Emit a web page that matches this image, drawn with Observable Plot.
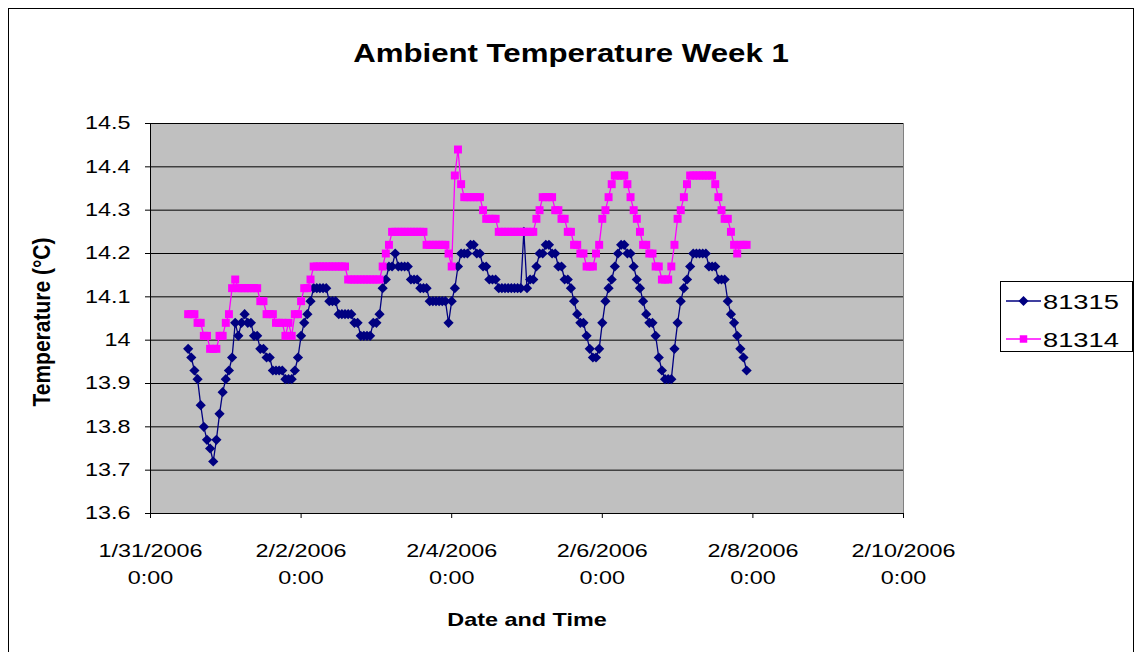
<!DOCTYPE html>
<html><head><meta charset="utf-8">
<script src="https://cdn.jsdelivr.net/npm/d3@7"></script>
<script src="https://cdn.jsdelivr.net/npm/@observablehq/plot@0.6"></script>
<style>
body{margin:0;background:#fff;}
#wrap{position:relative;width:1135px;height:652px;overflow:hidden;background:#fff;}
#chart{position:absolute;left:0;top:0;}
#over{position:absolute;left:0;top:0;}
</style></head><body>
<div id="wrap"><div id="chart"></div>
<svg id="over" width="1135" height="652" font-family="Liberation Sans, Arial, sans-serif"></svg>
</div>
<script>
// ---- data ----
const seriesNames = ["81315", "81314"];
const seriesColors = ["#000080", "#FF00FF"];
const startTime = "2006-01-31T12:00:00Z"; // first reading, hourly readings
const temp81315 = [
13.98,13.96,13.93,13.91,13.85,13.80,13.77,13.75,13.72,13.77,
13.83,13.88,13.91,13.93,13.96,14.04,14.01,14.04,14.06,14.04,
14.04,14.01,14.01,13.98,13.98,13.96,13.96,13.93,13.93,13.93,
13.93,13.91,13.91,13.91,13.93,13.96,14.01,14.04,14.06,14.09,
14.12,14.12,14.12,14.12,14.12,14.09,14.09,14.09,14.06,14.06,
14.06,14.06,14.06,14.04,14.04,14.01,14.01,14.01,14.01,14.04,
14.04,14.06,14.12,14.14,14.17,14.17,14.20,14.17,14.17,14.17,
14.17,14.14,14.14,14.14,14.12,14.12,14.12,14.09,14.09,14.09,
14.09,14.09,14.09,14.04,14.09,14.12,14.17,14.20,14.20,14.20,
14.22,14.22,14.20,14.20,14.17,14.17,14.14,14.14,14.14,14.12,
14.12,14.12,14.12,14.12,14.12,14.12,14.12,14.25,14.12,14.14,
14.14,14.17,14.20,14.20,14.22,14.22,14.20,14.20,14.17,14.17,
14.14,14.14,14.12,14.09,14.06,14.04,14.04,14.01,13.98,13.96,
13.96,13.98,14.04,14.09,14.12,14.14,14.17,14.20,14.22,14.22,
14.20,14.20,14.17,14.14,14.12,14.09,14.06,14.04,14.04,14.01,
13.96,13.93,13.91,13.91,13.91,13.98,14.04,14.09,14.12,14.14,
14.17,14.20,14.20,14.20,14.20,14.20,14.17,14.17,14.17,14.14,
14.14,14.14,14.09,14.06,14.04,14.01,13.98,13.96,13.93];
const temp81314 = [
14.06,14.06,14.06,14.04,14.04,14.01,14.01,13.98,13.98,13.98,
14.01,14.01,14.04,14.06,14.12,14.14,14.12,14.12,14.12,14.12,
14.12,14.12,14.12,14.09,14.09,14.06,14.06,14.06,14.04,14.04,
14.04,14.01,14.04,14.01,14.06,14.06,14.09,14.12,14.12,14.14,
14.17,14.17,14.17,14.17,14.17,14.17,14.17,14.17,14.17,14.17,
14.17,14.14,14.14,14.14,14.14,14.14,14.14,14.14,14.14,14.14,
14.14,14.14,14.17,14.20,14.22,14.25,14.25,14.25,14.25,14.25,
14.25,14.25,14.25,14.25,14.25,14.25,14.22,14.22,14.22,14.22,
14.22,14.22,14.22,14.20,14.17,14.38,14.44,14.36,14.33,14.33,
14.33,14.33,14.33,14.33,14.30,14.28,14.28,14.28,14.28,14.25,
14.25,14.25,14.25,14.25,14.25,14.25,14.25,14.25,14.25,14.25,
14.25,14.28,14.30,14.33,14.33,14.33,14.33,14.30,14.30,14.28,
14.28,14.25,14.25,14.22,14.22,14.20,14.20,14.17,14.17,14.17,
14.20,14.22,14.28,14.30,14.33,14.36,14.38,14.38,14.38,14.38,
14.36,14.33,14.30,14.28,14.25,14.22,14.22,14.20,14.20,14.17,
14.17,14.14,14.14,14.14,14.17,14.22,14.28,14.30,14.33,14.36,
14.38,14.38,14.38,14.38,14.38,14.38,14.38,14.38,14.36,14.33,
14.30,14.28,14.28,14.25,14.22,14.20,14.22,14.22,14.22];
const yTicks = [13.6,13.7,13.8,13.9,14.0,14.1,14.2,14.3,14.4,14.5];
const xTickDates = ["2006-01-31","2006-02-02","2006-02-04","2006-02-06","2006-02-08","2006-02-10"];
const xTickLabels = ["1/31/2006\n0:00","2/2/2006\n0:00","2/4/2006\n0:00","2/6/2006\n0:00","2/8/2006\n0:00","2/10/2006\n0:00"];
const titleText = "Ambient Temperature Week 1";
const xTitle = "Date and Time";
const yTitle = "Temperature (°C)";

// ---- build table ----
const t0 = new Date(startTime).getTime();
const rows = (vals, name) => vals.map((v, i) => ({time: new Date(t0 + i * 3600e3), temp: v, series: name}));
const d81315 = rows(temp81315, seriesNames[0]);
const d81314 = rows(temp81314, seriesNames[1]);
const xTicks = xTickDates.map(s => new Date(s + "T00:00:00Z"));
const labelOf = new Map(xTicks.map((d, i) => [+d, xTickLabels[i]]));
const FS = "Liberation Sans, Arial, sans-serif";

const plot = Plot.plot({
  width: 1135, height: 652,
  marginLeft: 150, marginRight: 232, marginTop: 123, marginBottom: 139,
  style: {background: "transparent", fontFamily: FS, fontSize: "18px", color: "#000", overflow: "visible"},
  x: {type: "utc", domain: [xTicks[0], xTicks[xTicks.length - 1]]},
  y: {domain: [13.6, 14.5]},
  marks: [
    Plot.frame({fill: "#c0c0c0", stroke: "#808080"}),
    Plot.ruleY(yTicks, {stroke: "#000", strokeWidth: 1}),
    Plot.ruleX([xTicks[0]], {stroke: "#000", strokeWidth: 1}),
    Plot.axisY({ticks: yTicks, tickSize: 5, tickPadding: 15, label: null, fontSize: 18,
      tickFormat: d => String(Math.round(d * 10) / 10), stroke: "#000"}),
    Plot.axisX({ticks: xTicks, tickSize: 5, tickPadding: 19, label: null, fontSize: 18, lineHeight: 1.5,
      tickFormat: d => labelOf.get(+d), stroke: "#000"}),
    Plot.line(d81315, {x: "time", y: "temp", stroke: seriesColors[0], strokeWidth: 1.3}),
    Plot.dot(d81315, {x: "time", y: "temp", symbol: "diamond2", r: 4.6, fill: seriesColors[0], stroke: "none"}),
    Plot.line(d81314, {x: "time", y: "temp", stroke: seriesColors[1], strokeWidth: 1.3}),
    Plot.dot(d81314, {x: "time", y: "temp", symbol: "square", r: 4.5, fill: seriesColors[1], stroke: "none"})
  ]
});
document.getElementById("chart").appendChild(plot);

// stretch tick labels horizontally like the original picture
const SX = 1.3;
plot.querySelectorAll("g[aria-label$='tick label'] text").forEach(t => {
  let tr = t.getAttribute("transform");
  if (!tr) {
    const x = t.getAttribute("x") || 0, y = t.getAttribute("y") || 0;
    t.removeAttribute("x"); t.removeAttribute("y");
    tr = `translate(${x},${y})`;
  }
  t.setAttribute("transform", tr + ` scale(${SX},1)`);
});

// ---- overlay: border, titles, legend ----
const ov = d3.select("#over");
ov.append("rect").attr("x", 8.5).attr("y", 8.5).attr("width", 1125).attr("height", 660)
  .attr("fill", "none").attr("stroke", "#000");
ov.append("text").attr("transform", `translate(571,62) scale(1.2,1)`).attr("text-anchor", "middle")
  .attr("font-size", 26).attr("font-weight", "bold").text(titleText);
ov.append("text").attr("transform", `translate(527,626) scale(${SX},1)`).attr("text-anchor", "middle")
  .attr("font-size", 18).attr("font-weight", "bold").text(xTitle);
ov.append("text").attr("transform", `translate(50,322) scale(1.1,1) rotate(-90)`).attr("text-anchor", "middle")
  .attr("font-size", 21).attr("font-weight", "bold").text(yTitle);
const lg = ov.append("g");
lg.append("rect").attr("x", 1000.5).attr("y", 281.5).attr("width", 132).attr("height", 70)
  .attr("fill", "#fff").attr("stroke", "#000");
seriesNames.forEach((name, i) => {
  const cy = 301 + i * 38;
  lg.append("line").attr("x1", 1006).attr("x2", 1041).attr("y1", cy).attr("y2", cy)
    .attr("stroke", seriesColors[i]).attr("stroke-width", 1.3);
  const sym = d3.symbol(i === 0 ? d3.symbolDiamond2 : d3.symbolSquare, i === 0 ? 64 : 56)();
  lg.append("path").attr("d", sym).attr("transform", `translate(1023.5,${cy})`).attr("fill", seriesColors[i]);
  lg.append("text").attr("transform", `translate(1043,${cy + 8}) scale(${SX},1)`)
    .attr("font-size", 21).text(name);
});
</script>
</body></html>
